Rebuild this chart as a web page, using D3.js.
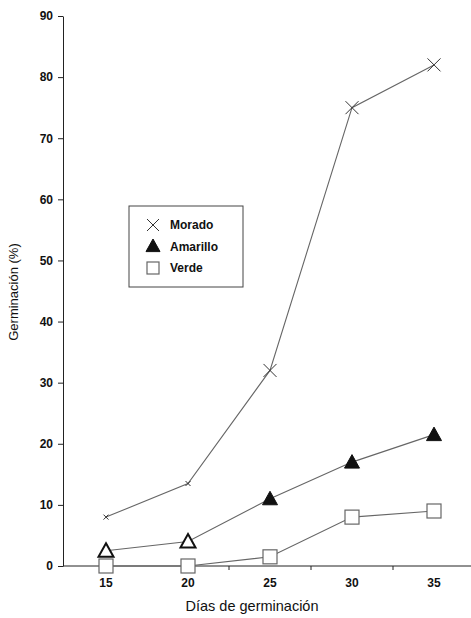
<!DOCTYPE html>
<html>
<head>
<meta charset="utf-8">
<script src="https://cdn.jsdelivr.net/npm/d3@7"></script>
<style>
  body { margin: 0; background: #fff; }
  text { font-family: "Liberation Sans", Arial, sans-serif; }
</style>
</head>
<body>
<div id="chart"></div>
<script>
// data
var dias = [15, 20, 25, 30, 35];
var morado = [8, 13.5, 32, 75, 82];
var amarillo = [2.5, 4, 11, 17, 21.5];
var verde = [0, 0, 1.5, 8, 9];
var moradoTenues = [15, 20];       // crosses barely visible in the scan
var amarilloAbiertos = [15, 20];   // triangles that look open in the scan
var yTicks = [0, 10, 20, 30, 40, 50, 60, 70, 80, 90];
var xTicks = [15, 20, 25, 30, 35];
var xMinorTicks = [22.5, 27.5, 32.5];

var width = 471, height = 618;
var margin = {top: 16, right: 0, bottom: 52, left: 63};

var svg = d3.select("#chart").append("svg")
    .attr("width", width)
    .attr("height", height);

var x = d3.scaleLinear().domain([15, 35]).range([106, 434]);
var y = d3.scaleLinear().domain([0, 90]).range([height - margin.bottom, margin.top]);

// y axis
var yAxis = svg.append("g")
    .attr("transform", "translate(" + margin.left + ",0)")
    .call(d3.axisLeft(y).tickValues(yTicks).tickSize(5).tickPadding(5).tickSizeOuter(0));
yAxis.select(".domain").attr("stroke", "#222");
yAxis.selectAll(".tick line").attr("stroke", "#222");
yAxis.selectAll(".tick text")
    .attr("font-size", 12).attr("font-weight", "bold").attr("fill", "#111")
    .attr("font-family", "'Liberation Sans', Arial, sans-serif");

// x axis baseline
svg.append("line")
    .attr("x1", margin.left).attr("x2", width)
    .attr("y1", y(0)).attr("y2", y(0))
    .attr("stroke", "#222");

svg.selectAll(".xminor")
    .data(xMinorTicks)
    .enter().append("line")
    .attr("x1", function(d) { return x(d); })
    .attr("x2", function(d) { return x(d); })
    .attr("y1", y(0)).attr("y2", y(0) + 4)
    .attr("stroke", "#222");

svg.selectAll(".xlabel")
    .data(xTicks)
    .enter().append("text")
    .attr("x", function(d) { return x(d); })
    .attr("y", y(0) + 21)
    .attr("text-anchor", "middle")
    .attr("font-size", 12).attr("font-weight", "bold").attr("fill", "#111")
    .text(function(d) { return d; });

// titles
svg.append("text")
    .attr("x", 252).attr("y", 611)
    .attr("text-anchor", "middle")
    .attr("font-size", 14.5).attr("fill", "#111")
    .text("Días de germinación");

svg.append("text")
    .attr("transform", "translate(18," + 292 + ") rotate(-90)")
    .attr("text-anchor", "middle")
    .attr("font-size", 13).attr("fill", "#111")
    .text("Germinación (%)");

// lines
var line = d3.line()
    .x(function(d) { return x(d[0]); })
    .y(function(d) { return y(d[1]); });

var series = [
    {name: "Morado", values: d3.zip(dias, morado)},
    {name: "Amarillo", values: d3.zip(dias, amarillo)},
    {name: "Verde", values: d3.zip(dias, verde)}
];

series.forEach(function(s) {
    svg.append("path")
        .datum(s.values)
        .attr("d", line)
        .attr("fill", "none")
        .attr("stroke", "#666")
        .attr("stroke-width", 1.1);
});

// markers
function cross(g, cx, cy, r) {
    g.append("path")
        .attr("d", "M" + (cx - r) + "," + (cy - r) + "L" + (cx + r) + "," + (cy + r) +
                   "M" + (cx - r) + "," + (cy + r) + "L" + (cx + r) + "," + (cy - r))
        .attr("stroke", "#333").attr("stroke-width", 1).attr("fill", "none");
}
function triangle(g, cx, cy, r, open) {
    g.append("path")
        .attr("d", "M" + cx + "," + (cy - r) + "L" + (cx + r) + "," + (cy + r * 0.8) +
                   "L" + (cx - r) + "," + (cy + r * 0.8) + "Z")
        .attr("fill", open ? "#fff" : "#111")
        .attr("stroke", "#111").attr("stroke-width", open ? 2 : 1);
}
function square(g, cx, cy, r) {
    g.append("rect")
        .attr("x", cx - r).attr("y", cy - r)
        .attr("width", 2 * r).attr("height", 2 * r)
        .attr("fill", "#fff")
        .attr("stroke", "#666").attr("stroke-width", 1.2);
}

var marks = svg.append("g");
series[0].values.forEach(function(d) {
    cross(marks, x(d[0]), y(d[1]), moradoTenues.indexOf(d[0]) >= 0 ? 2.5 : 6.5);
});
series[1].values.forEach(function(d) {
    triangle(marks, x(d[0]), y(d[1]), 7.5, amarilloAbiertos.indexOf(d[0]) >= 0);
});
series[2].values.forEach(function(d) { square(marks, x(d[0]), y(d[1]), 7); });

// legend
var legend = svg.append("g");
legend.append("rect")
    .attr("x", 129).attr("y", 206).attr("width", 114).attr("height", 81)
    .attr("fill", "#fff").attr("stroke", "#444").attr("stroke-width", 1);

var legendNames = ["Morado", "Amarillo", "Verde"];
var legendY = [225, 247, 268];
cross(legend, 153, legendY[0], 6);
triangle(legend, 153, legendY[1] - 1, 7, false);
square(legend, 153, legendY[2], 6);
legend.selectAll(".ltext")
    .data(legendNames)
    .enter().append("text")
    .attr("x", 170)
    .attr("y", function(d, i) { return legendY[i] + 4; })
    .attr("font-size", 12).attr("font-weight", "bold").attr("fill", "#111")
    .text(function(d) { return d; });
</script>
</body>
</html>
